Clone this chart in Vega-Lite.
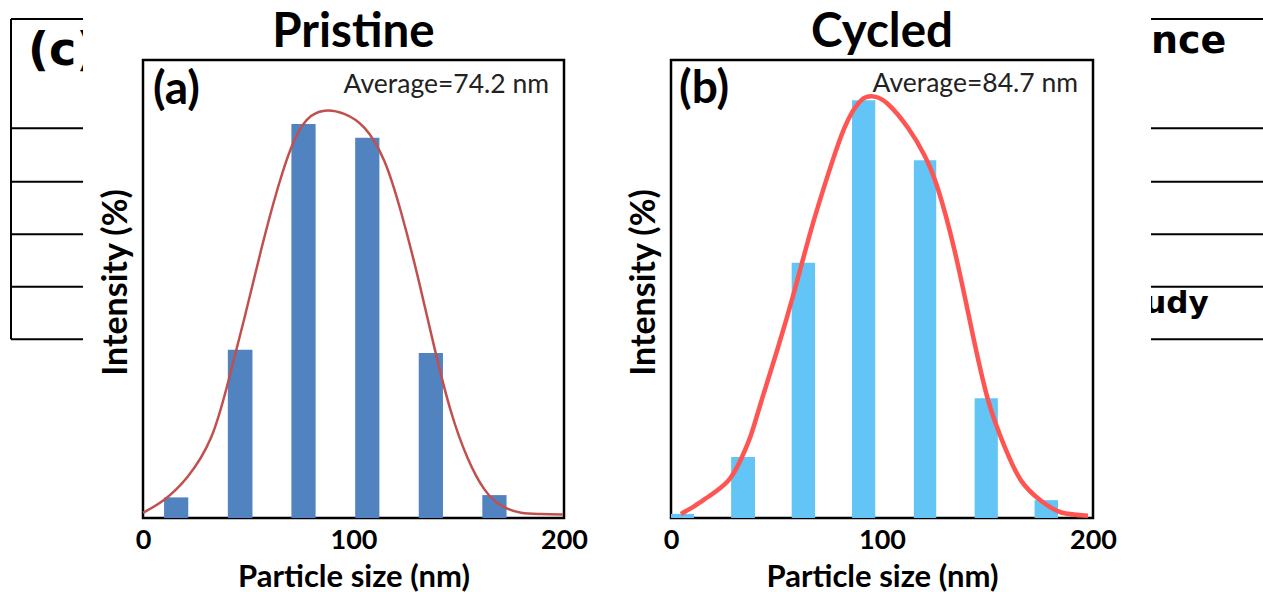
{
  "$schema": "https://vega.github.io/schema/vega-lite/v6.json",
  "usermeta": {"embedOptions": {"actions": false}},
  "background": "white",
  "padding": {"left": 10, "top": 7, "right": 0, "bottom": 0},
  "spacing": 0,
  "bounds": "flush",
  "center": true,
  "datasets": {
    "table_rules": [
      {"x0": 0, "x1": 1, "y0": 0, "y1": 0},
      {"x0": 0, "x1": 1, "y0": 2.08, "y1": 2.08},
      {"x0": 0, "x1": 1, "y0": 3.1, "y1": 3.1},
      {"x0": 0, "x1": 1, "y0": 4.1, "y1": 4.1},
      {"x0": 0, "x1": 1, "y0": 5.1, "y1": 5.1},
      {"x0": 0, "x1": 1, "y0": 6.1, "y1": 6.1}
    ],
    "table_left_edge": [
      {"x0": 0, "x1": 0, "y0": 0, "y1": 6.1}
    ],
    "table_left_text": [
      {"col": 0.236, "row": 0.876, "text": "(c)", "size": 46}
    ],
    "table_right_text": [
      {"col": 0, "row": 0.648, "text": "nce", "size": 38},
      {"col": -0.06, "row": 5.6, "text": "udy", "size": 31}
    ],
    "pristine_bars": [
      {"lo": 10.0, "hi": 21.5, "intensity": 1.8},
      {"lo": 40.3, "hi": 52.0, "intensity": 14.7},
      {"lo": 70.5, "hi": 82.0, "intensity": 34.4},
      {"lo": 100.8, "hi": 112.3, "intensity": 33.2},
      {"lo": 131.0, "hi": 142.5, "intensity": 14.4},
      {"lo": 161.2, "hi": 172.7, "intensity": 2.0}
    ],
    "pristine_fit": [
      {"size": 0, "intensity": 0.45},
      {"size": 10.1, "intensity": 1.6},
      {"size": 21.2, "intensity": 3.6},
      {"size": 32.3, "intensity": 7.0},
      {"size": 40.2, "intensity": 11.7},
      {"size": 48.1, "intensity": 17.4},
      {"size": 56.1, "intensity": 23.4},
      {"size": 64.0, "intensity": 28.8},
      {"size": 71.9, "intensity": 33.0},
      {"size": 79.8, "intensity": 35.1},
      {"size": 87.7, "intensity": 35.6},
      {"size": 95.6, "intensity": 35.3},
      {"size": 105.1, "intensity": 34.1},
      {"size": 114.6, "intensity": 31.2},
      {"size": 122.6, "intensity": 26.7},
      {"size": 130.5, "intensity": 21.1},
      {"size": 138.4, "intensity": 14.9},
      {"size": 146.3, "intensity": 9.3},
      {"size": 154.3, "intensity": 5.2},
      {"size": 162.2, "intensity": 2.5},
      {"size": 170.1, "intensity": 1.1},
      {"size": 179.6, "intensity": 0.45},
      {"size": 189.0, "intensity": 0.35},
      {"size": 199.4, "intensity": 0.3}
    ],
    "cycled_bars": [
      {"lo": 0.0, "hi": 10.9, "intensity": 0.34},
      {"lo": 28.5, "hi": 39.8, "intensity": 5.0},
      {"lo": 57.2, "hi": 68.3, "intensity": 20.9},
      {"lo": 85.8, "hi": 96.8, "intensity": 34.2},
      {"lo": 115.1, "hi": 125.7, "intensity": 29.3},
      {"lo": 143.9, "hi": 154.9, "intensity": 9.8},
      {"lo": 172.3, "hi": 183.4, "intensity": 1.46}
    ],
    "cycled_fit": [
      {"size": 4.7, "intensity": 0.33},
      {"size": 11.1, "intensity": 0.98},
      {"size": 17.5, "intensity": 1.72},
      {"size": 27.0, "intensity": 3.03},
      {"size": 33.2, "intensity": 4.83},
      {"size": 37.9, "intensity": 6.8},
      {"size": 42.7, "intensity": 9.5},
      {"size": 50.6, "intensity": 13.9},
      {"size": 58.5, "intensity": 18.6},
      {"size": 66.4, "intensity": 23.6},
      {"size": 74.3, "intensity": 28.05},
      {"size": 82.2, "intensity": 31.95},
      {"size": 90.1, "intensity": 34.2},
      {"size": 96.4, "intensity": 34.5},
      {"size": 102.8, "intensity": 33.9},
      {"size": 112.3, "intensity": 31.95},
      {"size": 120.1, "intensity": 29.7},
      {"size": 126.5, "intensity": 26.96},
      {"size": 134.4, "intensity": 21.9},
      {"size": 142.3, "intensity": 15.6},
      {"size": 150.2, "intensity": 9.7},
      {"size": 158.1, "intensity": 5.85},
      {"size": 166.0, "intensity": 3.04},
      {"size": 175.5, "intensity": 1.39},
      {"size": 185.0, "intensity": 0.45},
      {"size": 197.6, "intensity": 0.19}
    ],
    "pristine_notes": [
      {"size": 4.75, "intensity": 36.2, "tag": "(a)", "avg": "Average=74.2 nm", "avg_size": 192.9, "avg_intensity": 37.1}
    ],
    "cycled_notes": [
      {"size": 3.8, "intensity": 34.0, "tag": "(b)", "avg": "Average=84.7 nm", "avg_size": 192.9, "avg_intensity": 34.9}
    ]
  },
  "hconcat": [
    {
      "width": 72,
      "height": 540,
      "view": {"stroke": null},
      "layer": [
        {
          "data": {"name": "table_rules"},
          "mark": {"type": "rule", "color": "black", "strokeWidth": 2},
          "encoding": {
            "x": {"field": "x0", "type": "quantitative", "scale": {"domain": [0, 1], "nice": false}, "axis": null},
            "x2": {"field": "x1"},
            "y": {"field": "y0", "type": "quantitative", "scale": {"domain": [0, 10.286], "nice": false, "zero": false, "reverse": true}, "axis": null},
            "y2": {"field": "y1"}
          }
        },
        {
          "data": {"name": "table_left_edge"},
          "mark": {"type": "rule", "color": "black", "strokeWidth": 2},
          "encoding": {
            "x": {"field": "x0", "type": "quantitative", "axis": null},
            "x2": {"field": "x1"},
            "y": {"field": "y0", "type": "quantitative", "axis": null},
            "y2": {"field": "y1"}
          }
        },
        {
          "data": {"name": "table_left_text"},
          "mark": {"type": "text", "font": "DejaVu Sans", "fontWeight": "bold", "align": "left", "baseline": "alphabetic", "color": "black", "clip": true},
          "encoding": {
            "x": {"field": "col", "type": "quantitative", "axis": null},
            "y": {"field": "row", "type": "quantitative", "axis": null},
            "text": {"field": "text"},
            "size": {"field": "size", "type": "quantitative", "scale": null}
          }
        }
      ]
    },
    {"width": 60, "height": 458, "view": {"stroke": null}, "data": {"values": []}, "mark": "point"},
    {
      "width": 421,
      "height": 458,
      "title": {"text": "Pristine", "frame": "group", "anchor": "middle", "baseline": "alphabetic", "offset": -34, "fontSize": 47.5, "font": "Lato", "fontWeight": "bold", "color": "black"},
      "layer": [
        {
          "data": {"name": "pristine_bars"},
          "mark": {"type": "bar", "color": "#5083C0"},
          "encoding": {
            "x": {"field": "lo", "type": "quantitative", "title": "Particle size (nm)", "scale": {"domain": [0, 200], "nice": false}, "axis": {"values": [0, 100, 200]}},
            "x2": {"field": "hi"},
            "y": {"field": "intensity", "type": "quantitative", "title": "Intensity (%)", "scale": {"domain": [0, 40], "nice": false}},
            "y2": {"datum": 0}
          }
        },
        {
          "data": {"name": "pristine_fit"},
          "mark": {"type": "line", "color": "#C0504D", "strokeWidth": 2.5, "interpolate": "natural"},
          "encoding": {
            "x": {"field": "size", "type": "quantitative", "title": "Particle size (nm)"},
            "y": {"field": "intensity", "type": "quantitative", "title": "Intensity (%)"}
          }
        },
        {
          "data": {"name": "pristine_notes"},
          "mark": {"type": "text", "font": "Lato", "fontWeight": "bold", "fontSize": 46, "align": "left", "baseline": "alphabetic", "color": "black"},
          "encoding": {
            "x": {"field": "size", "type": "quantitative", "title": "Particle size (nm)"},
            "y": {"field": "intensity", "type": "quantitative", "title": "Intensity (%)"},
            "text": {"field": "tag"}
          }
        },
        {
          "data": {"name": "pristine_notes"},
          "mark": {"type": "text", "font": "Lato", "fontSize": 26.5, "align": "right", "baseline": "alphabetic", "color": "#222222"},
          "encoding": {
            "x": {"field": "avg_size", "type": "quantitative", "title": "Particle size (nm)"},
            "y": {"field": "avg_intensity", "type": "quantitative", "title": "Intensity (%)"},
            "text": {"field": "avg"}
          }
        }
      ]
    },
    {"width": 107, "height": 458, "view": {"stroke": null}, "data": {"values": []}, "mark": "point"},
    {
      "width": 422,
      "height": 458,
      "title": {"text": "Cycled", "frame": "group", "anchor": "middle", "baseline": "alphabetic", "offset": -34, "fontSize": 47.5, "font": "Lato", "fontWeight": "bold", "color": "black"},
      "layer": [
        {
          "data": {"name": "cycled_bars"},
          "mark": {"type": "bar", "color": "#63C4F6"},
          "encoding": {
            "x": {"field": "lo", "type": "quantitative", "title": "Particle size (nm)", "scale": {"domain": [0, 200], "nice": false}, "axis": {"values": [0, 100, 200]}},
            "x2": {"field": "hi"},
            "y": {"field": "intensity", "type": "quantitative", "title": "Intensity (%)", "scale": {"domain": [0, 37.5], "nice": false}},
            "y2": {"datum": 0}
          }
        },
        {
          "data": {"name": "cycled_fit"},
          "mark": {"type": "line", "color": "#FF5552", "strokeWidth": 4.5, "interpolate": "natural"},
          "encoding": {
            "x": {"field": "size", "type": "quantitative", "title": "Particle size (nm)"},
            "y": {"field": "intensity", "type": "quantitative", "title": "Intensity (%)"}
          }
        },
        {
          "data": {"name": "cycled_notes"},
          "mark": {"type": "text", "font": "Lato", "fontWeight": "bold", "fontSize": 46, "align": "left", "baseline": "alphabetic", "color": "black"},
          "encoding": {
            "x": {"field": "size", "type": "quantitative", "title": "Particle size (nm)"},
            "y": {"field": "intensity", "type": "quantitative", "title": "Intensity (%)"},
            "text": {"field": "tag"}
          }
        },
        {
          "data": {"name": "cycled_notes"},
          "mark": {"type": "text", "font": "Lato", "fontSize": 26.5, "align": "right", "baseline": "alphabetic", "color": "#222222"},
          "encoding": {
            "x": {"field": "avg_size", "type": "quantitative", "title": "Particle size (nm)"},
            "y": {"field": "avg_intensity", "type": "quantitative", "title": "Intensity (%)"},
            "text": {"field": "avg"}
          }
        }
      ]
    },
    {"width": 58, "height": 458, "view": {"stroke": null}, "data": {"values": []}, "mark": "point"},
    {
      "width": 113,
      "height": 540,
      "view": {"stroke": null},
      "layer": [
        {
          "data": {"name": "table_rules"},
          "mark": {"type": "rule", "color": "black", "strokeWidth": 2},
          "encoding": {
            "x": {"field": "x0", "type": "quantitative", "scale": {"domain": [0, 1], "nice": false}, "axis": null},
            "x2": {"field": "x1"},
            "y": {"field": "y0", "type": "quantitative", "scale": {"domain": [0, 10.286], "nice": false, "zero": false, "reverse": true}, "axis": null},
            "y2": {"field": "y1"}
          }
        },
        {
          "data": {"name": "table_right_text"},
          "mark": {"type": "text", "font": "DejaVu Sans", "fontWeight": "bold", "align": "left", "baseline": "alphabetic", "color": "black", "clip": true},
          "encoding": {
            "x": {"field": "col", "type": "quantitative", "axis": null},
            "y": {"field": "row", "type": "quantitative", "axis": null},
            "text": {"field": "text"},
            "size": {"field": "size", "type": "quantitative", "scale": null}
          }
        }
      ]
    }
  ],
  "config": {
    "font": "Lato",
    "view": {"stroke": "black", "strokeWidth": 2.5},
    "axisX": {
      "ticks": false,
      "domain": false,
      "grid": false,
      "labelFlush": false,
      "labelFont": "Lato",
      "labelFontWeight": "bold",
      "labelFontSize": 27,
      "labelColor": "black",
      "labelPadding": 9,
      "titleFont": "Lato",
      "titleFontWeight": "bold",
      "titleFontSize": 31,
      "titleColor": "black",
      "titlePadding": 9
    },
    "axisY": {
      "labels": false,
      "ticks": false,
      "domain": false,
      "grid": false,
      "titleFont": "Lato",
      "titleFontWeight": "bold",
      "titleFontSize": 34,
      "titleColor": "black",
      "titlePadding": 10,
      "titleY": 222
    }
  }
}
